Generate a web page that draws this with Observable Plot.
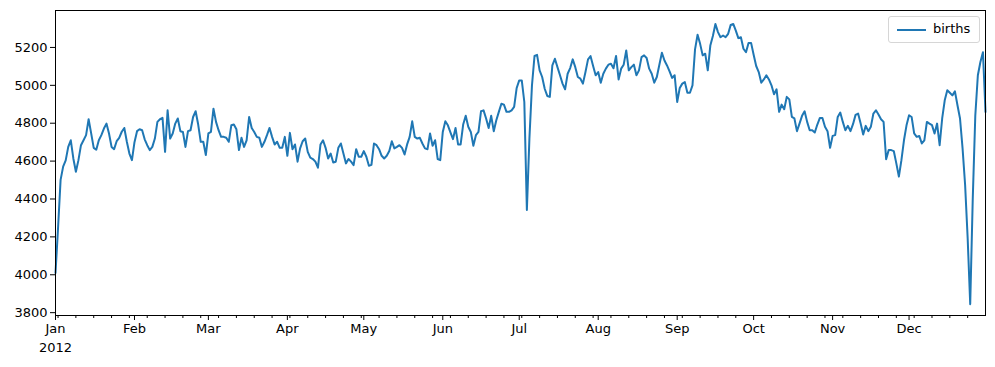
<!DOCTYPE html>
<html><head><meta charset="utf-8">
<script src="https://cdn.jsdelivr.net/npm/d3@7"></script>
<script src="https://cdn.jsdelivr.net/npm/@observablehq/plot@0.6"></script>
<style>
body{margin:0;background:#fff;font-family:"DejaVu Sans",sans-serif;}
#wrap{position:relative;width:995px;height:367px;}
.legend{position:absolute;left:888px;top:16px;width:92px;height:27px;border:1px solid #d6d6d6;border-radius:3px;background:rgba(255,255,255,0.85);box-sizing:border-box;font-size:13px;color:#000;}
.legend .sw{position:absolute;left:8px;top:11.5px;width:29px;height:2px;background:#1f77b4;}
.legend .lb{position:absolute;left:44px;top:4px;line-height:16px;}
</style></head><body><div id="wrap"></div>
<script>
const births = [
4009,4247,4501,4571,4604,4675,4710,4614,4544,4605,
4684,4710,4737,4821,4746,4670,4660,4710,4737,4772,
4798,4746,4675,4663,4705,4723,4755,4775,4702,4640,
4605,4700,4758,4768,4763,4715,4684,4658,4675,4719,
4807,4821,4828,4649,4868,4719,4746,4798,4825,4758,
4754,4675,4758,4763,4833,4863,4793,4702,4702,4632,
4746,4754,4877,4807,4763,4728,4728,4723,4702,4789,
4793,4768,4658,4723,4675,4710,4833,4775,4754,4728,
4723,4675,4702,4737,4775,4728,4688,4702,4670,4670,
4728,4628,4749,4663,4688,4597,4667,4705,4719,4649,
4618,4611,4597,4565,4688,4710,4670,4614,4640,4593,
4597,4670,4693,4640,4588,4611,4597,4579,4663,4623,
4623,4653,4623,4575,4580,4693,4684,4663,4628,4614,
4628,4653,4705,4667,4675,4684,4670,4635,4688,4728,
4810,4728,4719,4723,4693,4667,4663,4746,4681,4710,
4611,4605,4754,4810,4789,4752,4716,4775,4688,4688,
4793,4839,4781,4754,4681,4737,4754,4863,4868,4825,
4775,4839,4758,4816,4860,4903,4898,4860,4860,4868,
4886,4986,5026,5026,4912,4342,4720,5000,5155,5161,
5079,5044,4982,4944,4939,5105,5140,5096,5053,5009,
4979,5061,5091,5137,5096,5044,5035,5009,5070,5137,
5154,5102,5053,5070,5014,5061,5088,5109,5114,5090,
5155,5031,5088,5109,5184,5079,5096,5109,5053,5079,
5149,5158,5144,5088,5061,5014,5044,5109,5172,5131,
5105,5074,5039,5053,4912,4986,5009,5017,4961,4961,
5000,5190,5267,5219,5158,5167,5079,5210,5260,5324,
5281,5254,5263,5254,5272,5319,5324,5289,5249,5254,
5193,5175,5224,5224,5161,5102,5070,5014,5031,5053,
5031,5000,4953,4979,4860,4898,4874,4939,4926,4833,
4825,4758,4798,4839,4863,4807,4763,4763,4751,4793,
4828,4828,4781,4758,4670,4733,4737,4833,4856,4807,
4763,4786,4758,4795,4844,4851,4798,4740,4786,4758,
4781,4851,4868,4846,4821,4807,4610,4658,4658,4653,
4588,4518,4605,4710,4789,4842,4833,4746,4728,4733,
4693,4710,4807,4798,4790,4746,4798,4684,4825,4921,
4974,4961,4947,4968,4895,4825,4667,4474,4193,3845,
4403,4842,5053,5123,5175,4860
];
const startYear = 2012;
const monthLabels = ["Jan","Feb","Mar","Apr","May","Jun","Jul","Aug","Sep","Oct","Nov","Dec"];
const yearLabel = "2012";
const yTicks = [3800,4000,4200,4400,4600,4800,5000,5200];
const seriesName = "births";

const startDate = new Date(startYear, 0, 1);
const dates = births.map((_, i) => d3.timeDay.offset(startDate, i));
const data = births.map((v, i) => ({date: dates[i], births: v}));
const endDate = dates[dates.length - 1];
const monthStarts = d3.timeMonth.range(startDate, d3.timeDay.offset(endDate, 1));
const mondays = d3.timeMonday.range(startDate, endDate).filter(d => d.getDate() !== 1);

const chart = Plot.plot({
  width: 995, height: 367,
  marginLeft: 55, marginRight: 10, marginTop: 10, marginBottom: 52,
  style: {fontFamily: "DejaVu Sans", fontSize: "13px", color: "#000", background: "#fff", overflow: "visible"},
  x: {type: "time", domain: [startDate, endDate]},
  y: {domain: [3785, 5395]},
  marks: [
    Plot.axisY(yTicks, {tickSize: 5, tickPadding: 3, label: null, tickFormat: d => String(d)}),
    Plot.axisX(mondays, {tickSize: 3, tickFormat: () => "", label: null}),
    Plot.axisX(monthStarts, {tickSize: 5, tickPadding: 3, label: null, tickFormat: d => monthLabels[d.getMonth()]}),
    Plot.text([startDate], {x: d => d, frameAnchor: "bottom", dy: 36, text: () => yearLabel, fontSize: 13}),
    Plot.line(data, {x: "date", y: "births", stroke: "#1f77b4", strokeWidth: 2}),
    Plot.frame({stroke: "#000", strokeWidth: 1})
  ]
});
const wrap = document.getElementById("wrap");
wrap.appendChild(chart);
const lg = document.createElement("div");
lg.className = "legend";
lg.innerHTML = '<div class="sw"></div><div class="lb"></div>';
lg.querySelector(".lb").textContent = seriesName;
wrap.appendChild(lg);
</script>
</body></html>
